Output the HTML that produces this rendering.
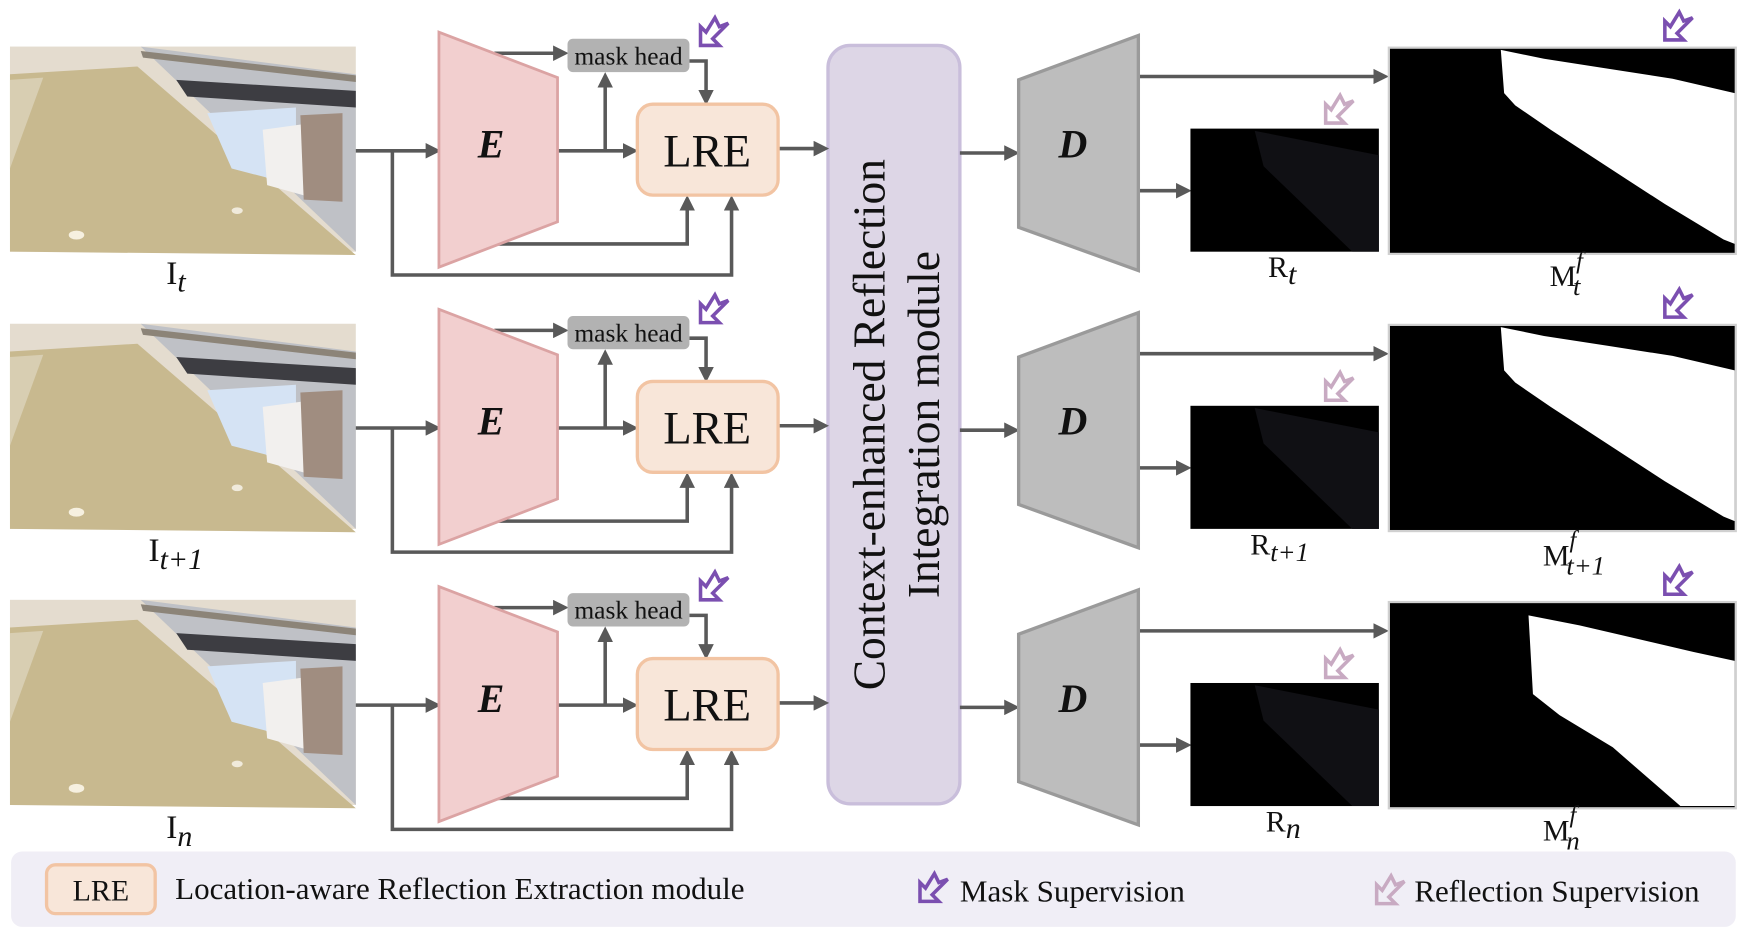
<!DOCTYPE html>
<html><head><meta charset="utf-8"><style>
html,body{margin:0;padding:0;background:#fff;}
svg{display:block;}
text{font-family:"Liberation Serif",serif;}
</style></head><body>
<svg width="1738" height="938" viewBox="0 0 1568 846" preserveAspectRatio="none" xmlns="http://www.w3.org/2000/svg">
<defs>
<marker id="ah" markerWidth="14" markerHeight="14" refX="10" refY="7" orient="auto" markerUnits="userSpaceOnUse">
<path d="M0,0 L14,7 L0,14 Z" fill="#595959"/>
</marker>
<g id="photo">
<rect x="0" y="0" width="312" height="185" fill="#e4dccf"/>
<polygon points="0,25 115,18 312,188 0,185" fill="#c8b98f"/>
<polygon points="0,30 30,28 0,110" fill="#d8ceb2"/>
<polygon points="118,0 312,25 312,185" fill="#bfc1c6"/>
<polygon points="150,30 312,40 312,55 160,45" fill="#3d3d42"/>
<polygon points="178,60 258,55 258,125 200,110" fill="#d5e3f4"/>
<polygon points="228,75 265,70 268,135 232,125" fill="#f2f0ee"/>
<polygon points="262,62 300,60 300,140 265,138" fill="#a08d80"/>
<polygon points="118,4 312,26 312,32 120,10" fill="#8c8478"/>
<ellipse cx="60" cy="170" rx="7" ry="4" fill="#f6f0e0"/>
<ellipse cx="205" cy="148" rx="5" ry="3" fill="#f0eadb"/>
</g>
<g id="msk" fill="none" stroke-width="3.2" stroke-linejoin="miter">
<path d="M3,27 L3,10 L8,15 L16,2 L20,10 L28,7 L14,21 L20,27 Z"/>
</g>
<g id="rowc">
<g stroke="#595959" stroke-width="3.2" fill="none">
<path d="M321,136 L394,136" marker-end="url(#ah)"/>
<path d="M354,136 L354,248 L660,248 L660,180" marker-end="url(#ah)"/>
<path d="M446,220 L620,220 L620,180" marker-end="url(#ah)"/>
<path d="M503,136 L572,136" marker-end="url(#ah)"/>
<path d="M546,136 L546,69" marker-end="url(#ah)"/>
<path d="M446,48 L509,48" marker-end="url(#ah)"/>
<path d="M622,55 L637,55 L637,91" marker-end="url(#ah)"/>
<path d="M702,134 L744,134" marker-end="url(#ah)"/>
<path d="M866,138 L916,138" marker-end="url(#ah)"/>
<path d="M1027,69 L1249,69" marker-end="url(#ah)"/>
<path d="M1027,172 L1071,172" marker-end="url(#ah)"/>
</g>
<polygon points="396,29 503,70 503,200 396,241" fill="#f2cfcf" stroke="#dba3a3" stroke-width="2.5"/>
<text x="443" y="142" font-size="36" font-weight="bold" font-style="italic" text-anchor="middle" fill="#111">E</text>
<rect x="512" y="35" width="110" height="30" rx="5" fill="#b2b2b2"/>
<text x="567" y="58" font-size="23" text-anchor="middle" fill="#111">mask head</text>
<rect x="575" y="94" width="127" height="82" rx="14" fill="#f8e6d9" stroke="#f2c4a3" stroke-width="3"/>
<text x="638" y="150" font-size="42" text-anchor="middle" fill="#111">LRE</text>
<use href="#msk" x="629" y="14" stroke="#7b4fb0"/>
<polygon points="919,72 1027,32 1027,244 919,205" fill="#bdbdbd" stroke="#9a9a9a" stroke-width="3"/>
<text x="968" y="142" font-size="36" font-weight="bold" font-style="italic" text-anchor="middle" fill="#111">D</text>
<rect x="1074" y="116" width="170" height="111" fill="#000"/>
<polygon points="1132,118 1244,140 1244,227 1220,227 1140,150" fill="#101014"/>
<use href="#msk" x="1193" y="84" stroke="#c8aac2"/>
<rect x="1253" y="43" width="313" height="186" fill="#000" stroke="#d0d0d0" stroke-width="2"/>
<use href="#msk" x="1499" y="9" stroke="#7b4fb0"/>
</g>
</defs>

<use href="#photo" x="9" y="42"/>
<use href="#photo" x="9" y="292"/>
<use href="#photo" x="9" y="541"/>

<g font-size="30" fill="#111">
<text x="150" y="256">I<tspan font-style="italic" font-size="27" dy="7">t</tspan></text>
<text x="134" y="506">I<tspan font-style="italic" font-size="27" dy="7">t+1</tspan></text>
<text x="150" y="756">I<tspan font-style="italic" font-size="27" dy="7">n</tspan></text>
</g>

<rect x="747" y="41" width="119" height="684" rx="20" fill="#ddd6e6" stroke="#c9bedb" stroke-width="3"/>
<g font-size="41" fill="#111" text-anchor="middle">
<text transform="translate(798,383) rotate(-90)">Context-enhanced Reflection</text>
<text transform="translate(847,383) rotate(-90)">Integration module</text>
</g>

<use href="#rowc"/>
<use href="#rowc" y="250"/>
<use href="#rowc" y="500"/>

<polygon fill="#fff" points="1354,45 1393,53 1451,62 1509,71 1565,84 1565,220 1555,216 1502,184 1468,162 1399,117 1367,95 1357,84"/>
<polygon fill="#fff" points="1354,295 1393,303 1451,312 1509,321 1565,334 1565,470 1555,466 1502,434 1468,412 1399,367 1367,345 1357,334"/>
<polygon fill="#fff" points="1379,555 1425,564 1528,588 1565,596 1565,727 1516,727 1455,674 1407,645 1383,626"/>

<g font-size="27" fill="#111">
<text x="1144" y="250">R<tspan font-style="italic" dy="6">t</tspan></text>
<text x="1128" y="500">R<tspan font-style="italic" font-size="24" dy="6">t+1</tspan></text>
<text x="1142" y="750">R<tspan font-style="italic" dy="6">n</tspan></text>
<text x="1398" y="258">M<tspan font-style="italic" font-size="22" dy="-16">f</tspan><tspan font-style="italic" font-size="24" dx="-9" dy="24">t</tspan></text>
<text x="1392" y="510">M<tspan font-style="italic" font-size="22" dy="-16">f</tspan><tspan font-style="italic" font-size="24" dx="-9" dy="24">t+1</tspan></text>
<text x="1392" y="758">M<tspan font-style="italic" font-size="22" dy="-16">f</tspan><tspan font-style="italic" font-size="24" dx="-9" dy="24">n</tspan></text>
</g>

<rect x="10" y="768" width="1556" height="68" rx="10" fill="#f0eef6"/>
<rect x="42" y="780" width="98" height="44" rx="8" fill="#f8e6d9" stroke="#f2c4a3" stroke-width="3"/>
<text x="91" y="812" font-size="27" text-anchor="middle" fill="#111">LRE</text>
<text x="158" y="811" font-size="28" fill="#111">Location-aware Reflection Extraction module</text>
<use href="#msk" x="827" y="786" stroke="#7b4fb0"/>
<text x="866" y="813" font-size="28" fill="#111">Mask Supervision</text>
<use href="#msk" x="1239" y="788" stroke="#c8aac2"/>
<text x="1276" y="813" font-size="28" fill="#111">Reflection Supervision</text>
</svg>
</body></html>
